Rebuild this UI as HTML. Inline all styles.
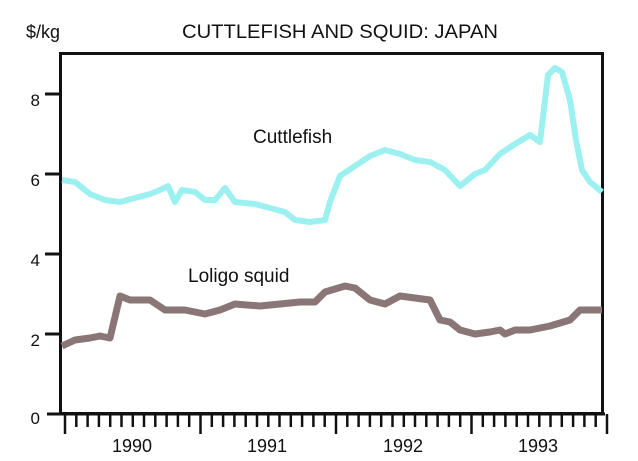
<!DOCTYPE html>
<html><head><meta charset="utf-8"><style>
html,body{margin:0;padding:0;background:#fff;}
svg{display:block;font-family:"Liberation Sans",Arial,sans-serif;}
</style></head><body>
<svg width="638" height="461" viewBox="0 0 638 461">
<text x="340" y="38" font-size="19" text-anchor="middle" fill="#111" textLength="316" lengthAdjust="spacingAndGlyphs">CUTTLEFISH AND SQUID:  JAPAN</text>
<text x="26" y="38" font-size="18" fill="#111">$/kg</text>
<g font-size="17" fill="#111" text-anchor="end">
<text x="40" y="106">8</text><text x="40" y="186">6</text><text x="40" y="266">4</text><text x="40" y="346">2</text><text x="40" y="424">0</text>
</g>
<g stroke="#111" stroke-width="3">
<line x1="45" y1="94" x2="60" y2="94"/><line x1="45" y1="174" x2="60" y2="174"/><line x1="45" y1="254" x2="60" y2="254"/><line x1="45" y1="334" x2="60" y2="334"/>
<line x1="47" y1="414" x2="605" y2="414"/>
</g>
<rect x="60.5" y="53.5" width="542" height="360" fill="none" stroke="#111" stroke-width="3"/>
<g stroke="#111" stroke-width="2.5" id="ticks"></g>
<polyline fill="none" stroke="#9cf0f0" stroke-width="6" stroke-linejoin="round" points="62,180 75,182 90,194 105,200 120,202 135,198 150,194 160,190 168,186 175,202 182,190 195,192 205,200 215,200 225,188 235,202 255,204 270,208 285,212 295,220 310,222 325,220 330,202 340,176 355,166 370,156 385,150 400,154 415,160 430,162 445,170 460,186 475,174 485,170 500,154 515,144 530,135 540,142 548,75 555,68 562,72 570,100 576,140 582,170 590,182 602,192"/>
<polyline fill="none" stroke="#8a7676" stroke-width="7" stroke-linejoin="round" points="62,346 75,340 90,338 100,336 110,338 120,296 130,300 150,300 165,310 185,310 205,314 220,310 235,304 260,306 280,304 300,302 315,302 325,292 345,286 355,288 370,300 385,304 400,296 415,298 430,300 440,320 450,322 460,330 475,334 490,332 500,330 505,334 515,330 530,330 550,326 570,320 580,310 602,310"/>
<text x="253" y="143" font-size="19" fill="#111">Cuttlefish</text>
<text x="188" y="282" font-size="19" fill="#111">Loligo squid</text>
<g font-size="18" fill="#111" text-anchor="middle">
<text x="132" y="452">1990</text><text x="267" y="452">1991</text><text x="403" y="452">1992</text><text x="538" y="452">1993</text>
</g>
</svg>
<script>
var g=document.getElementById('ticks'),s='';
for(var i=0;i<=48;i++){var x=65+i*135.5/12;var big=i%12==0;s+='<line x1="'+x.toFixed(1)+'" y1="414" x2="'+x.toFixed(1)+'" y2="'+(big?434:427)+'"/>';}
g.innerHTML=s;
</script>
</body></html>
